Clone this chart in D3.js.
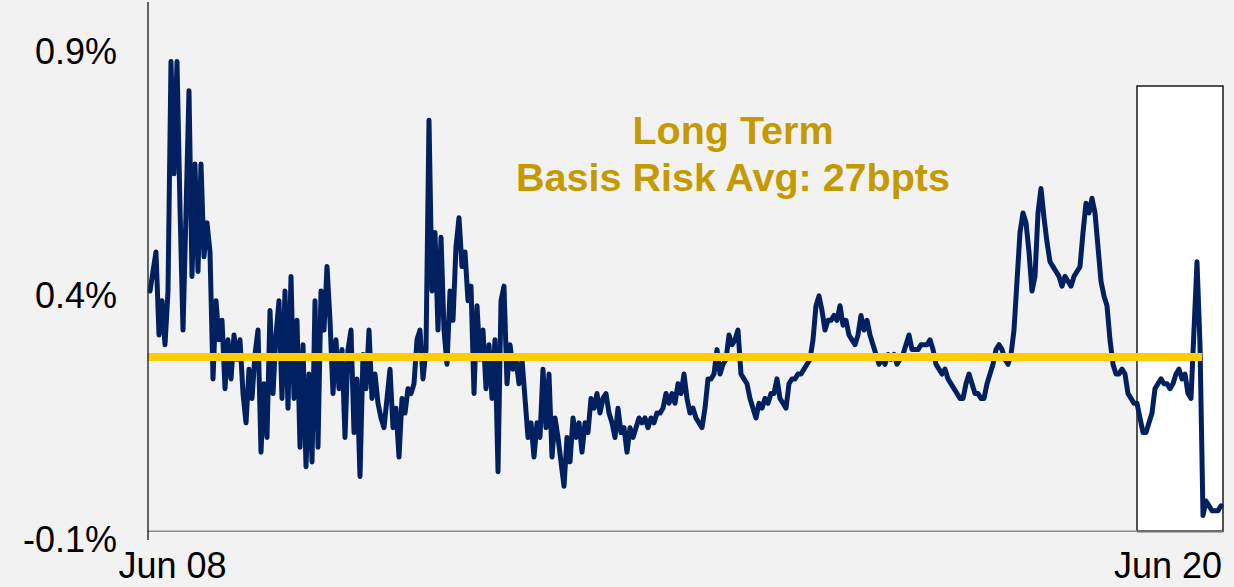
<!DOCTYPE html>
<html>
<head>
<meta charset="utf-8">
<script src="https://cdn.jsdelivr.net/npm/d3@7/dist/d3.min.js"></script>
<style>
  html, body { margin: 0; padding: 0; background: #f2f2f2; }
  svg { display: block; }
  text { font-family: "Liberation Sans", Arial, sans-serif; }
</style>
</head>
<body>
<svg id="chart" width="1234" height="587"></svg>
<script>
// ---- data (basis risk, in basis points) ----
const startDate = new Date(2008, 1, 25);
const stepHours = 317;
const basisBps = [
  41,45,49,32,39,30,41,88,65,88,58,33,57,82,44,67,45,67,48,55,
  49,23,39,31,35,21,31,23,32,27,31,20,14,25,19,28,33,8,22,11,
  37,20,32,39,19,41,17,44,19,35,9,30,5,24,6,39,9,41,33,46,
  35,20,31,21,29,11,29,33,12,23,3,28,21,33,19,24,18,15,13,19,
  25,13,17,7,19,16,21,20,22,31,33,23,29,76,41,53,33,52,33,26,
  41,35,50,56,46,49,39,42,20,38,27,33,21,30,19,31,4,39,42,22,
  30,25,27,22,27,19,11,14,7,14,11,25,13,24,7,15,11,6,1,11,
  6,15,11,14,8,14,12,19,17,20,16,19,20,16,14,11,17,12,13,8,
  13,11,13,15,14,15,13,15,14,16,16,17,20,18,20,18,22,20,24,19,
  16,17,15,14,13,17,23,23,24,29,24,26,27,32,30,31,33,24,23,22,
  19,17,15,18,17,19,18,20,20,23,19,18,17,22,23,23,24,24,25,26,
  27,31,38,40,37,33,35,35,36,35,38,34,35,32,31,30,32,36,33,35,
  32,30,28,26,27,26,28,27,28,26,27,28,30,32,29,29,29,30,30,30,
  31,29,26,25,24,25,23,22,21,20,19,19,22,24,22,20,20,19,19,22,
  24,26,29,30,29,27,26,28,33,43,53,57,55,49,41,44,57,62,56,51,
  47,46,45,44,42,44,43,42,44,45,46,53,59,57,60,57,50,43,40,38,
  31,26,24,24,25,24,20,19,18,18,15,12,12,14,16,21,22,23,22,22,
  21,22,24,25,23,24,20,19,33,47,30,-5,-2,-3,-4,-4,-4,-3
];
const longTermAvgBps = 27.5;
const avgEndIndex = 350;
const highlightStartIndex = 329;
const highlightTopBps = 83;
const axisCrossBps = -8.2;
const yTickValues = [90, 40, -10];
const yTickLabels = ["0.9%", "0.4%", "-0.1%"];
const xTickDates = [new Date(2008, 5, 1), new Date(2020, 5, 1)];
const xTickLabels = ["Jun 08", "Jun 20"];
const titleLines = ["Long Term", "Basis Risk Avg: 27bpts"];

// ---- build ----
const dates = basisBps.map((_, i) => d3.timeHour.offset(startDate, i * stepHours));
const data = basisBps.map((v, i) => ({ date: dates[i], v }));

const svg = d3.select("#chart");
const x = d3.scaleTime().domain([dates[0], dates[dates.length - 1]]).range([150, 1221]);
const y = d3.scaleLinear().domain([-10, 100]).range([540, 3]);

svg.append("rect").attr("width", 1234).attr("height", 587).attr("fill", "#f2f2f2");

// highlight box (last year)
const bx0 = x(dates[highlightStartIndex]);
const bx1 = x(dates[dates.length - 1]) + 2;
svg.append("rect")
  .attr("x", bx0).attr("y", y(highlightTopBps))
  .attr("width", bx1 - bx0).attr("height", y(axisCrossBps) - y(highlightTopBps))
  .attr("fill", "#ffffff").attr("stroke", "#1a1a1a").attr("stroke-width", 1.5);

// series line
const line = d3.line().x(d => x(d.date)).y(d => y(d.v));
svg.append("path").datum(data)
  .attr("d", line)
  .attr("fill", "none")
  .attr("stroke", "#002060")
  .attr("stroke-width", 5)
  .attr("stroke-linejoin", "round")
  .attr("stroke-linecap", "round");

// long-term average line
svg.append("line")
  .attr("x1", x(dates[0]) - 3).attr("x2", x(dates[avgEndIndex]) + 2)
  .attr("y1", y(longTermAvgBps)).attr("y2", y(longTermAvgBps))
  .attr("stroke", "#ffcc00").attr("stroke-width", 8);

// x axis line
svg.append("line")
  .attr("x1", 147).attr("x2", bx0)
  .attr("y1", y(axisCrossBps)).attr("y2", y(axisCrossBps))
  .attr("stroke", "#8c8c8c").attr("stroke-width", 1.5);
svg.append("line")
  .attr("x1", bx0).attr("x2", bx1)
  .attr("y1", y(axisCrossBps)).attr("y2", y(axisCrossBps))
  .attr("stroke", "#6e6e6e").attr("stroke-width", 2.5);

// y axis
const yAxis = d3.axisLeft(y)
  .tickValues(yTickValues)
  .tickFormat((d, i) => yTickLabels[i])
  .tickSize(0)
  .tickPadding(31);
const gy = svg.append("g").attr("transform", "translate(148,0)").call(yAxis);
gy.select(".domain").attr("stroke", "#333333").attr("stroke-width", 1.5)
  .attr("d", `M0,${y(100) - 1}V${y(-10)}`);
gy.selectAll("text")
  .attr("fill", "#000").attr("font-size", 36)
  .style("font-family", "'Liberation Sans', Arial, sans-serif");

// x axis labels
const xAxis = d3.axisBottom(x)
  .tickValues(xTickDates)
  .tickFormat((d, i) => xTickLabels[i])
  .tickSize(0)
  .tickPadding(21);
const gx = svg.append("g").attr("transform", `translate(0,${y(axisCrossBps)})`).call(xAxis);
gx.select(".domain").remove();
gx.selectAll("text")
  .attr("fill", "#000").attr("font-size", 36)
  .style("font-family", "'Liberation Sans', Arial, sans-serif");

// title annotation
const title = svg.append("text")
  .attr("x", 733).attr("y", 144)
  .attr("text-anchor", "middle")
  .attr("fill", "#c49a00")
  .attr("font-weight", "bold")
  .attr("font-size", 39.5);
titleLines.forEach((t, i) => {
  title.append("tspan").attr("x", 733).attr("dy", i === 0 ? 0 : 47).text(t);
});
</script>
</body>
</html>
